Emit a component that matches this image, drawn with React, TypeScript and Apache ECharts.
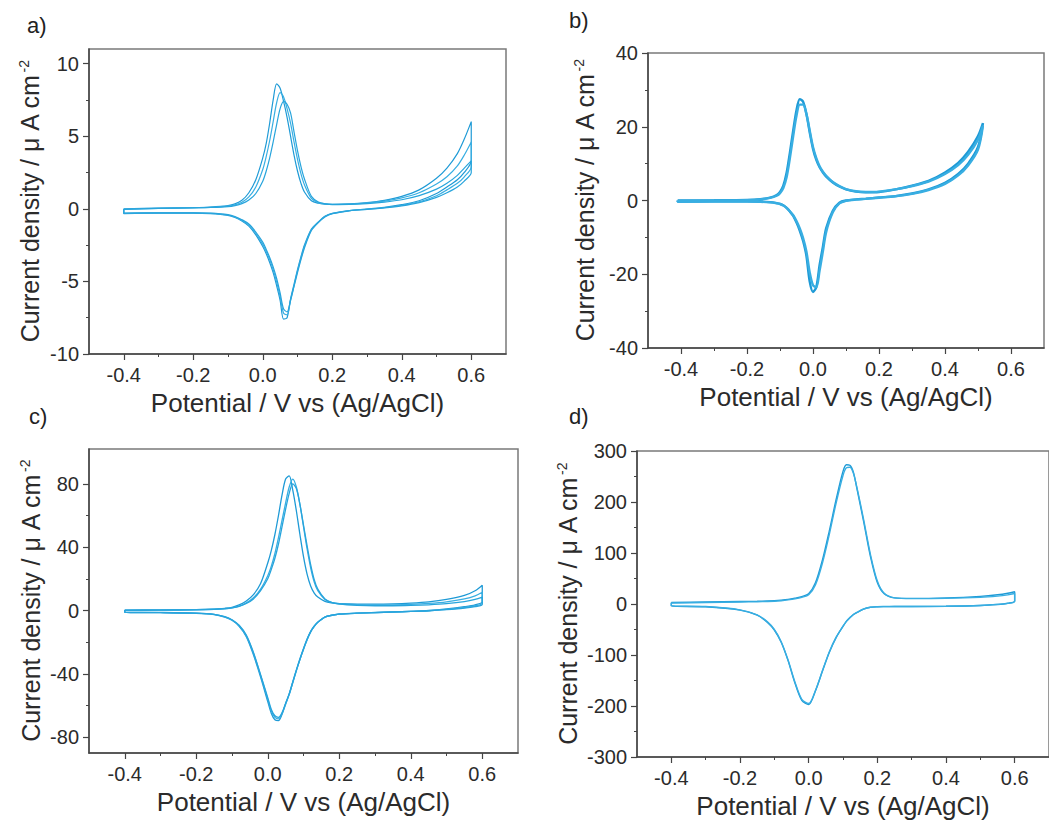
import React, { useEffect, useRef } from "react";
import * as echarts from "echarts";

// ---------------- DATA ----------------
// Shared tick values (potential axis)
const xMajorTicks = [-0.4, -0.2, 0, 0.2, 0.4, 0.6];
const xMinorTicks = [-0.3, -0.1, 0.1, 0.3, 0.5];

// Panel a) potentials (V) and current densities (µA cm-2), three cycles
const potA = [-0.4, -0.3, -0.2, -0.15, -0.1, -0.08, -0.06, -0.04, -0.02, 0, 0.01, 0.02, 0.03, 0.04, 0.05, 0.06, 0.07, 0.08, 0.09, 0.1, 0.11, 0.12, 0.14, 0.16, 0.18, 0.2, 0.25, 0.3, 0.35, 0.4, 0.45, 0.5, 0.53, 0.56, 0.58, 0.6];
const fwdA1 = [0.0, 0.04, 0.08, 0.12, 0.22, 0.34, 0.58, 1.1, 2.0, 3.5, 4.5, 5.9, 7.5, 8.6, 8.3, 7.4, 6.3, 5.0, 3.7, 2.6, 1.75, 1.15, 0.55, 0.38, 0.32, 0.3, 0.33, 0.42, 0.58, 0.85, 1.3, 2.1, 2.8, 3.8, 4.8, 6.0];
const fwdA2 = [-0.02, 0.03, 0.07, 0.1, 0.18, 0.27, 0.45, 0.82, 1.5, 2.7, 3.6, 4.7, 6.0, 7.3, 8.0, 7.7, 6.9, 5.9, 4.6, 3.4, 2.4, 1.65, 0.72, 0.42, 0.33, 0.3, 0.32, 0.4, 0.52, 0.75, 1.1, 1.7, 2.2, 2.95, 3.7, 4.6];
const fwdA3 = [-0.05, 0.02, 0.06, 0.09, 0.15, 0.22, 0.35, 0.6, 1.05, 1.9, 2.6, 3.5, 4.6, 5.8, 6.9, 7.4, 7.2, 6.6, 5.3, 4.0, 2.9, 2.05, 0.85, 0.46, 0.34, 0.29, 0.3, 0.36, 0.46, 0.62, 0.9, 1.35, 1.75, 2.3, 2.8, 3.3];
const revA1 = [-0.33, -0.3, -0.3, -0.33, -0.45, -0.6, -0.85, -1.2, -1.8, -2.6, -3.1, -3.7, -4.4, -5.3, -6.3, -7.6, -7.5, -6.2, -5.2, -4.2, -3.3, -2.5, -1.4, -0.9, -0.5, -0.32, -0.12, -0.02, 0.1, 0.28, 0.55, 1.05, 1.5, 2.0, 2.5, 3.3];
const revA2 = [-0.32, -0.29, -0.29, -0.32, -0.43, -0.57, -0.8, -1.13, -1.7, -2.45, -2.95, -3.5, -4.2, -5.05, -6.05, -7.2, -7.3, -6.3, -5.3, -4.3, -3.4, -2.6, -1.45, -0.92, -0.52, -0.33, -0.13, -0.03, 0.08, 0.24, 0.48, 0.9, 1.3, 1.75, 2.2, 2.9];
const revA3 = [-0.3, -0.28, -0.28, -0.3, -0.4, -0.53, -0.75, -1.05, -1.6, -2.3, -2.8, -3.35, -4.0, -4.8, -5.8, -6.9, -7.1, -6.3, -5.35, -4.4, -3.5, -2.7, -1.5, -0.95, -0.55, -0.34, -0.14, -0.04, 0.06, 0.2, 0.42, 0.78, 1.1, 1.5, 1.9, 2.5];
const yMajorA = [-10, -5, 0, 5, 10];
const yMinorA = [-7.5, -2.5, 2.5, 7.5];

// Panel b)
const potB = [-0.41, -0.3, -0.2, -0.16, -0.13, -0.11, -0.1, -0.09, -0.08, -0.07, -0.06, -0.05, -0.04, -0.03, -0.02, -0.01, 0, 0.01, 0.02, 0.03, 0.04, 0.06, 0.08, 0.1, 0.13, 0.16, 0.2, 0.25, 0.3, 0.35, 0.4, 0.44, 0.47, 0.5, 0.515];
const fwdB1 = [0.0, 0.05, 0.15, 0.35, 0.8, 1.5, 2.3, 4.0, 7.5, 13, 19, 24.5, 27.5, 26.8, 23.5, 18.5, 14, 11, 9.0, 7.6, 6.5, 4.9, 3.8, 3.0, 2.4, 2.2, 2.3, 3.0, 4.0, 5.3, 7.6, 10.2, 13.2, 17.5, 21];
const fwdB2 = [-0.1, 0.0, 0.1, 0.3, 0.7, 1.3, 2.0, 3.4, 6.3, 11.5, 17.5, 23, 26, 26, 23.5, 19, 14.5, 11.5, 9.3, 7.8, 6.7, 5.0, 3.9, 3.1, 2.5, 2.3, 2.4, 3.0, 3.9, 5.1, 7.2, 9.6, 12.4, 16.5, 20.3];
const revB1 = [-0.3, -0.25, -0.25, -0.3, -0.45, -0.7, -0.9, -1.3, -2.0, -3.0, -4.2, -6.0, -8.2, -11, -15, -22, -24.8, -23.5, -17.5, -12.5, -7.5, -2.8, -0.6, 0.0, 0.3, 0.5, 0.8, 1.2, 1.9, 3.0, 4.8, 7.2, 10, 14.5, 21];
const revB2 = [-0.35, -0.3, -0.3, -0.35, -0.5, -0.75, -0.95, -1.35, -2.0, -2.9, -4.0, -5.6, -7.6, -10.2, -13.8, -19.5, -23, -23.5, -19, -13.8, -8.5, -3.2, -0.8, -0.1, 0.25, 0.45, 0.75, 1.15, 1.8, 2.85, 4.5, 6.8, 9.5, 13.8, 20.3];
const yMajorB = [-40, -20, 0, 20, 40];
const yMinorB = [-30, -10, 10, 30];

// Panel c)
const potC = [-0.4, -0.3, -0.2, -0.15, -0.12, -0.1, -0.08, -0.06, -0.04, -0.02, 0, 0.01, 0.02, 0.03, 0.04, 0.05, 0.06, 0.07, 0.08, 0.09, 0.1, 0.11, 0.12, 0.13, 0.14, 0.16, 0.18, 0.2, 0.25, 0.3, 0.35, 0.4, 0.45, 0.5, 0.55, 0.58, 0.6];
const fwdC1 = [0.3, 0.4, 0.6, 0.9, 1.4, 2.0, 3.5, 6.0, 10, 17, 30, 38, 48, 60, 73, 83, 85, 76, 63, 48, 34, 23, 15.5, 11, 8.5, 5.8, 4.8, 4.3, 4.0, 4.0, 4.2, 4.7, 5.5, 7.0, 9.5, 12.5, 16];
const fwdC2 = [0.2, 0.3, 0.5, 0.8, 1.2, 1.7, 2.8, 4.8, 8.0, 13.5, 22, 28, 36, 46, 57, 68, 78, 83, 78, 67, 53, 39, 27, 18, 12.5, 7.0, 5.0, 4.3, 3.7, 3.5, 3.6, 3.9, 4.5, 5.5, 7.3, 9.2, 11.5];
const fwdC3 = [0.1, 0.2, 0.4, 0.7, 1.1, 1.6, 2.6, 4.4, 7.3, 12.5, 20, 26, 33, 42, 53, 64, 74, 80, 77, 67, 54, 41, 29, 19.5, 13.5, 7.3, 5.0, 4.1, 3.3, 3.0, 3.0, 3.2, 3.6, 4.3, 5.6, 7.0, 8.5];
const revC1 = [-1.3, -1.4, -1.8, -2.6, -4.2, -6.2, -10, -16.5, -28, -42, -57.5, -65, -69, -69.5, -65.5, -59, -53, -45.5, -38, -31, -24.5, -18.5, -13.5, -10, -7.5, -4.2, -3.0, -2.3, -1.7, -1.3, -0.9, -0.5, 0.0, 1.0, 2.4, 3.6, 5.5];
const revC2 = [-1.2, -1.3, -1.7, -2.5, -4.0, -6.0, -9.6, -16, -27, -41, -56, -63.5, -67.5, -68.5, -65, -59, -53, -45.5, -38, -31, -24.5, -18.5, -13.5, -10, -7.5, -4.2, -3.0, -2.3, -1.7, -1.3, -0.95, -0.6, -0.15, 0.7, 1.9, 3.0, 4.6];
const revC3 = [-1.1, -1.2, -1.6, -2.4, -3.9, -5.8, -9.3, -15.5, -26.5, -40.5, -55, -62.5, -66.5, -67.5, -64.5, -58.5, -52.5, -45, -37.5, -30.5, -24, -18, -13.2, -9.8, -7.3, -4.1, -2.9, -2.2, -1.6, -1.25, -0.95, -0.6, -0.2, 0.5, 1.5, 2.5, 3.8];
const yMajorC = [-80, -40, 0, 40, 80];
const yMinorC = [-60, -20, 20, 60];

// Panel d)
const potD = [-0.4, -0.3, -0.2, -0.15, -0.12, -0.1, -0.08, -0.06, -0.04, -0.02, 0, 0.02, 0.04, 0.06, 0.08, 0.1, 0.11, 0.12, 0.13, 0.14, 0.16, 0.18, 0.2, 0.22, 0.25, 0.3, 0.4, 0.5, 0.55, 0.58, 0.6];
const fwdD1 = [3, 4, 5, 5.5, 6, 6.5, 7.5, 9, 11.5, 14.5, 20, 42, 86, 143, 205, 260, 273, 272, 259, 228, 162, 93, 42, 20, 12, 11, 12, 15, 18, 21, 24];
const fwdD2 = [2, 3, 4, 4.5, 5, 5.5, 6.5, 8, 10, 13, 18, 38, 80, 136, 198, 252, 267, 268, 257, 230, 166, 97, 45, 21, 12, 10.5, 11, 13, 15.5, 18, 20.5];
const revD1 = [-4, -5.5, -12, -22, -36, -51, -75, -111, -155, -189, -197, -170, -132, -95, -66, -44, -34, -27, -21, -17, -10, -6.5, -5.5, -5.2, -5, -5, -4.5, -3.0, -1.0, 1.5, 6];
const revD2 = [-3.5, -5, -11.5, -21.5, -35, -50, -74, -110, -153, -187, -195, -169, -131, -94, -65, -43.5, -33.5, -26.5, -20.5, -16.5, -9.8, -6.3, -5.3, -5, -4.8, -4.8, -4.3, -2.8, -0.8, 1.2, 5];
const yMajorD = [-300, -200, -100, 0, 100, 200, 300];
const yMinorD = [-250, -150, -50, 50, 150, 250];

const panelLetters = ["a)", "b)", "c)", "d)"];
const xTitle = "Potential / V vs (Ag/AgCl)";
const yTitleMain = "Current density / μ A cm";
const yTitleSup = "-2";

// ---------------- LAYOUT / STYLE ----------------
const FONT = "'Liberation Sans', Arial, Helvetica, sans-serif";
const AXIS_COLOR = "#444";
const TEXT_COLOR = "#2b2b2b";
const LINE_COLORS = ["#1e9ad6", "#38aee2", "#27a4dc"];

type Panel = {
  grid: { left: number; top: number; width: number; height: number };
  yMin: number;
  yMax: number;
  yMajor: number[];
  yMinor: number[];
  pot: number[];
  cycles: [number[], number[]][];
  lineWidth: number;
  yNameGap: number;
  letterPos: [number, number];
};

const panels: Panel[] = [
  {
    grid: { left: 89, top: 49, width: 417, height: 305 },
    yMin: -10, yMax: 11, yMajor: yMajorA, yMinor: yMinorA,
    pot: potA, cycles: [[fwdA1, revA1], [fwdA2, revA2], [fwdA3, revA3]],
    lineWidth: 1.2, yNameGap: 47, letterPos: [27, 14],
  },
  {
    grid: { left: 648, top: 53, width: 396, height: 295 },
    yMin: -40, yMax: 40, yMajor: yMajorB, yMinor: yMinorB,
    pot: potB, cycles: [[fwdB1, revB1], [fwdB2, revB2]],
    lineWidth: 2.4, yNameGap: 51, letterPos: [569, 9],
  },
  {
    grid: { left: 89, top: 449, width: 429, height: 304 },
    yMin: -90, yMax: 102, yMajor: yMajorC, yMinor: yMinorC,
    pot: potC, cycles: [[fwdC1, revC1], [fwdC2, revC2], [fwdC3, revC3]],
    lineWidth: 1.3, yNameGap: 46, letterPos: [29, 405],
  },
  {
    grid: { left: 637, top: 451, width: 413, height: 306 },
    yMin: -300, yMax: 300, yMajor: yMajorD, yMinor: yMinorD,
    pot: potD, cycles: [[fwdD1, revD1], [fwdD2, revD2]],
    lineWidth: 1.4, yNameGap: 57, letterPos: [569, 405],
  },
];

function loopPoints(pot: number[], fwd: number[], rev: number[]): number[][] {
  const pts: number[][] = [];
  for (let i = 0; i < pot.length; i++) pts.push([pot[i], fwd[i]]);
  for (let i = pot.length - 1; i >= 0; i--) pts.push([pot[i], rev[i]]);
  pts.push([pot[0], fwd[0]]);
  return pts;
}

function buildOption() {
  const grid: any[] = [];
  const xAxis: any[] = [];
  const yAxis: any[] = [];
  const series: any[] = [];
  const graphic: any[] = [];

  panels.forEach((p, i) => {
    grid.push({
      ...p.grid,
      show: true,
      borderColor: "#7a7a7a",
      borderWidth: 1.5,
      backgroundColor: "transparent",
      containLabel: false,
    });
    // main x axis
    xAxis.push({
      type: "value",
      gridIndex: i,
      min: -0.5,
      max: 0.7,
      position: "bottom",
      axisLine: { show: true, onZero: false, lineStyle: { color: AXIS_COLOR, width: 1.5 } },
      axisTick: { show: true, inside: false, length: 6, customValues: xMajorTicks, lineStyle: { color: AXIS_COLOR, width: 1.2 } },
      axisLabel: {
        show: true,
        customValues: xMajorTicks,
        formatter: (v: number) => v.toFixed(1),
        fontSize: 20,
        fontFamily: FONT,
        color: TEXT_COLOR,
        margin: 11,
      },
      splitLine: { show: false },
      name: xTitle,
      nameLocation: "middle",
      nameGap: 36,
      nameTextStyle: { fontSize: 26, fontFamily: FONT, color: TEXT_COLOR },
    });
    // minor x ticks
    xAxis.push({
      type: "value",
      gridIndex: i,
      min: -0.5,
      max: 0.7,
      position: "bottom",
      axisLine: { show: false, onZero: false },
      axisTick: { show: true, inside: false, length: 3, customValues: xMinorTicks, lineStyle: { color: AXIS_COLOR, width: 1 } },
      axisLabel: { show: false },
      splitLine: { show: false },
    });
    // main y axis
    yAxis.push({
      type: "value",
      gridIndex: i,
      min: p.yMin,
      max: p.yMax,
      position: "left",
      axisLine: { show: true, onZero: false, lineStyle: { color: AXIS_COLOR, width: 1.5 } },
      axisTick: { show: true, inside: false, length: 6, customValues: p.yMajor, lineStyle: { color: AXIS_COLOR, width: 1.2 } },
      axisLabel: {
        show: true,
        customValues: p.yMajor,
        formatter: (v: number) => String(v),
        fontSize: 20,
        fontFamily: FONT,
        color: TEXT_COLOR,
        margin: 10,
      },
      splitLine: { show: false },
      name: "{m|" + yTitleMain + "}{s|" + yTitleSup + "}",
      nameLocation: "middle",
      nameGap: p.yNameGap,
      nameTextStyle: {
        fontSize: 25,
        fontFamily: FONT,
        color: TEXT_COLOR,
        rich: {
          m: { fontSize: 25, fontFamily: FONT, color: TEXT_COLOR },
          s: { fontSize: 14, fontFamily: FONT, color: TEXT_COLOR, verticalAlign: "top", padding: [0, 0, 0, 2] },
        },
      },
    });
    // minor y ticks
    yAxis.push({
      type: "value",
      gridIndex: i,
      min: p.yMin,
      max: p.yMax,
      position: "left",
      axisLine: { show: false, onZero: false },
      axisTick: { show: true, inside: false, length: 3, customValues: p.yMinor, lineStyle: { color: AXIS_COLOR, width: 1 } },
      axisLabel: { show: false },
      splitLine: { show: false },
    });

    p.cycles.forEach(([fwd, rev], k) => {
      series.push({
        type: "line",
        xAxisIndex: 2 * i,
        yAxisIndex: 2 * i,
        data: loopPoints(p.pot, fwd, rev),
        showSymbol: false,
        symbol: "none",
        smooth: 0.3,
        silent: true,
        lineStyle: { color: LINE_COLORS[k % LINE_COLORS.length], width: p.lineWidth },
      });
    });

    graphic.push({
      type: "text",
      x: p.letterPos[0],
      y: p.letterPos[1],
      style: {
        text: panelLetters[i],
        font: "22px " + FONT,
        fill: "#222",
        align: "left",
        verticalAlign: "top",
      },
    });
  });

  return {
    animation: false,
    backgroundColor: "#ffffff",
    grid,
    xAxis,
    yAxis,
    series,
    graphic,
  };
}

export default function App() {
  const ref = useRef<HTMLDivElement | null>(null);
  useEffect(() => {
    if (!ref.current) return;
    const chart = echarts.init(ref.current, undefined, { renderer: "svg" });
    chart.setOption(buildOption() as any);
    return () => chart.dispose();
  }, []);
  return (
    <div
      ref={ref}
      style={{ position: "fixed", left: 0, top: 0, width: 1049, height: 823, background: "#fff" }}
    />
  );
}
